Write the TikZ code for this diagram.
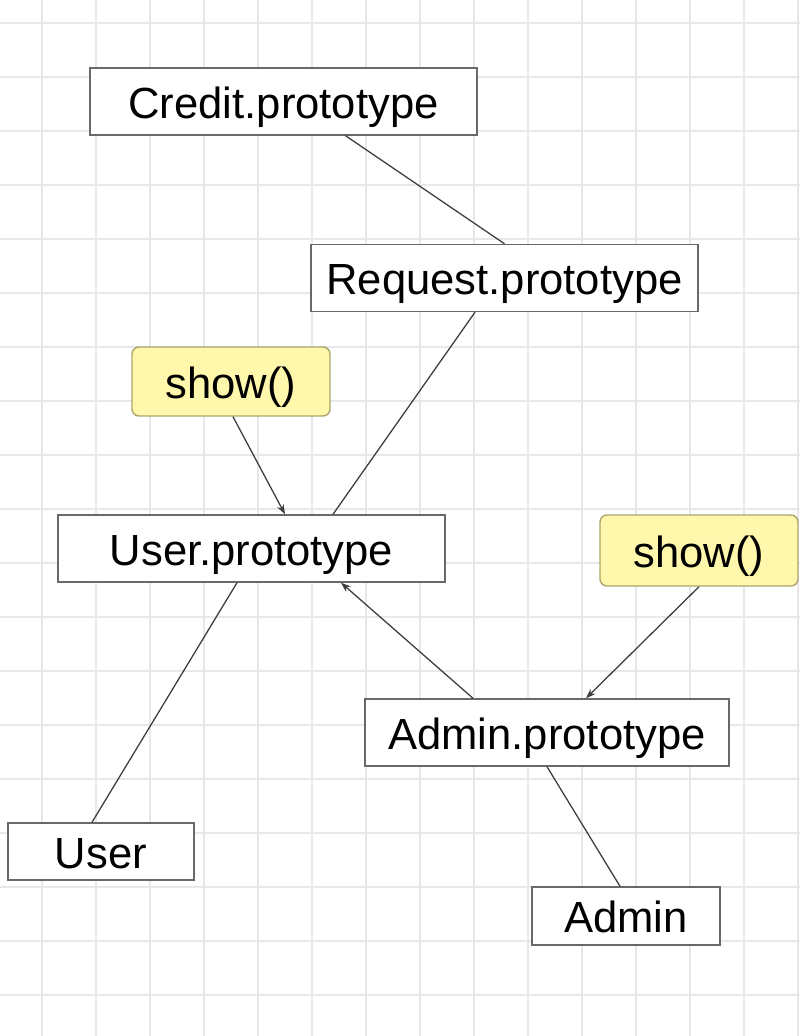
\documentclass[tikz,border=0pt]{standalone}
\usepackage{fontspec}
\setmainfont{Liberation Sans}
\usetikzlibrary{arrows.meta}

\definecolor{gridgray}{RGB}{232,232,236}
\definecolor{boxedge}{RGB}{105,105,108}
\definecolor{notefill}{RGB}{255,248,172}
\definecolor{noteedge}{RGB}{172,166,108}
\definecolor{linkgray}{RGB}{60,60,62}

\begin{document}
\begin{tikzpicture}[x=0.025cm, y=-0.025cm,
    every node/.append style={font=\fontsize{31}{37}\selectfont, text height=23.6pt, text depth=0pt},
    protobox/.style={draw=boxedge, fill=white, line width=1pt, inner sep=0pt, minimum height=67*\px},
    notebox/.style={draw=noteedge, fill=notefill, line width=1pt, inner sep=0pt, rounded corners=5pt,
        minimum width=198*\px, minimum height=69*\px},
    link/.style={draw=linkgray, line width=0.9pt},
    linkarrow/.style={link, -{Stealth[length=7pt, width=5pt]}}]

    \def\px{0.025cm}        % one pixel of the reference

    \useasboundingbox (0,0) rectangle (800,1036);
    \fill[white] (0,0) rectangle (800,1036);

    % background grid
    \foreach \gx in {42,96,...,800}
        \draw[gridgray, line width=1.2pt] (\gx,0) -- (\gx,1036);
    \foreach \gy in {23,77,...,1036}
        \draw[gridgray, line width=1.2pt] (0,\gy) -- (800,\gy);

    \node[protobox, minimum width=387*\px] (credit)     at (283.5,101.5) {Credit.prototype};
    \node[protobox, minimum width=387*\px] (request)    at (504.5,278)   {Request.prototype};
    \node[protobox, minimum width=387*\px] (usrproto)   at (251.5,548.5) {User.prototype};
    \node[protobox, minimum width=364*\px] (adminproto) at (547,732.5)   {Admin.prototype};
    \node[protobox, minimum width=186*\px, minimum height=57*\px] (usr)   at (101,851.5) {User};
    \node[protobox, minimum width=188*\px, minimum height=58*\px] (admin) at (626,916)   {Admin};

    \node[notebox] (showa) at (231,381.5) {show()};
    \node[notebox, minimum height=71*\px] (showb) at (699,550.5) {show()};

    \draw[link]
        ([xshift=62*\px]credit.south) -- (request.north)
        ([xshift=-29.5*\px]request.south) -- ([xshift=81.5*\px]usrproto.north)
        ([xshift=-14.5*\px]usrproto.south) -- ([xshift=-9*\px]usr.north)
        (adminproto.south) -- ([xshift=-6*\px]admin.north)
    ;

    \draw[linkarrow] ([xshift=2*\px]showa.south) -- ([xshift=33.5*\px]usrproto.north);
    \draw[linkarrow] ([xshift=-74*\px]adminproto.north) -- ([xshift=89.5*\px]usrproto.south);
    \draw[linkarrow] (showb.south) -- ([xshift=39*\px]adminproto.north);

\end{tikzpicture}
\end{document}
